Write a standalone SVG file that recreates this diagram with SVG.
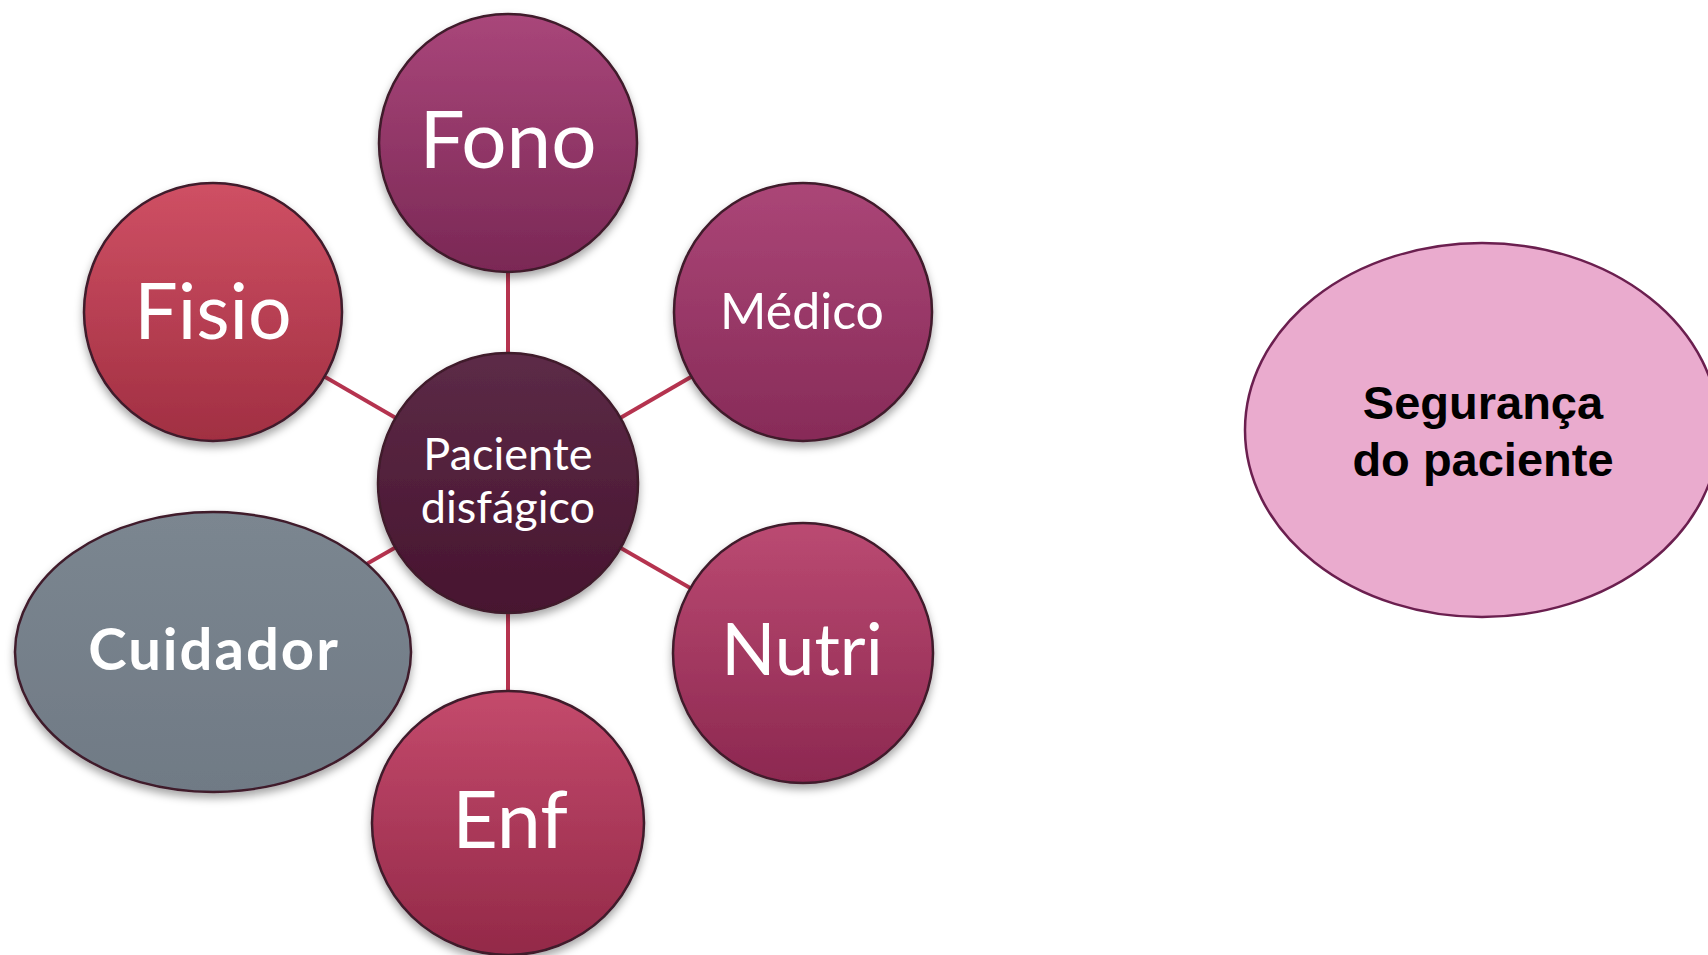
<svg xmlns="http://www.w3.org/2000/svg" width="1708" height="955" viewBox="0 0 1708 955">
<defs>
<filter id="sh" x="-20%" y="-20%" width="140%" height="140%">
<feDropShadow dx="0" dy="5" stdDeviation="4" flood-color="#000" flood-opacity="0.35"/>
</filter>
<linearGradient id="gFono" x1="0" y1="0" x2="0" y2="1"><stop offset="0" stop-color="#a9467a"/><stop offset="1" stop-color="#7a2855"/></linearGradient>
<linearGradient id="gFisio" x1="0" y1="0" x2="0" y2="1"><stop offset="0" stop-color="#cf5064"/><stop offset="1" stop-color="#a12f42"/></linearGradient>
<linearGradient id="gMed" x1="0" y1="0" x2="0" y2="1"><stop offset="0" stop-color="#ab4677"/><stop offset="1" stop-color="#872b58"/></linearGradient>
<linearGradient id="gPac" x1="0" y1="0" x2="0" y2="1"><stop offset="0" stop-color="#5c2b47"/><stop offset="1" stop-color="#47142f"/></linearGradient>
<linearGradient id="gNutri" x1="0" y1="0" x2="0" y2="1"><stop offset="0" stop-color="#bb4a72"/><stop offset="1" stop-color="#8c2850"/></linearGradient>
<linearGradient id="gEnf" x1="0" y1="0" x2="0" y2="1"><stop offset="0" stop-color="#c44a6c"/><stop offset="1" stop-color="#932948"/></linearGradient>
<linearGradient id="gCui" x1="0" y1="0" x2="0" y2="1"><stop offset="0" stop-color="#7b8690"/><stop offset="1" stop-color="#707a85"/></linearGradient>
</defs>
<style>
.node{stroke:#3f1a2c;stroke-width:2.5;filter:url(#sh)}
.lbl{font-family:Lato,"Open Sans","Liberation Sans",sans-serif;fill:#fff;text-anchor:middle}
.conn{stroke:#b5334f;stroke-width:4;fill:none}
</style>
<g id="connectors">
<line class="conn" x1="508" y1="483" x2="508" y2="143"/>
<line class="conn" x1="508" y1="483" x2="213" y2="312"/>
<line class="conn" x1="508" y1="483" x2="803" y2="312"/>
<line class="conn" x1="508" y1="483" x2="803" y2="653"/>
<line class="conn" x1="508" y1="483" x2="508" y2="823"/>
<line class="conn" x1="508" y1="483" x2="213" y2="652"/>
</g>
<g id="fono">
<circle class="node" cx="508" cy="143" r="129" fill="url(#gFono)"/>
<text class="lbl" x="508" y="168" font-size="80">Fono</text>
</g>
<g id="fisio">
<circle class="node" cx="213" cy="312" r="129" fill="url(#gFisio)"/>
<text class="lbl" x="213" y="339" font-size="77">Fisio</text>
</g>
<g id="medico">
<circle class="node" cx="803" cy="312" r="129" fill="url(#gMed)"/>
<text class="lbl" x="802" y="329" font-size="50">Médico</text>
</g>
<g id="nutri">
<circle class="node" cx="803" cy="653" r="130" fill="url(#gNutri)"/>
<text class="lbl" x="802" y="675" font-size="71">Nutri</text>
</g>
<g id="enf">
<ellipse class="node" cx="508" cy="823" rx="136" ry="132" fill="url(#gEnf)"/>
<text class="lbl" x="510" y="848" font-size="79">Enf</text>
</g>
<g id="cuidador">
<ellipse class="node" cx="213" cy="652" rx="198" ry="140" fill="url(#gCui)" stroke="#3a3f45"/>
<text class="lbl" x="214" y="670" font-size="58" font-weight="bold" letter-spacing="2">Cuidador</text>
</g>
<g id="paciente">
<circle class="node" cx="508" cy="483" r="130" fill="url(#gPac)"/>
<text class="lbl" x="508" y="470" font-size="45">Paciente</text>
<text class="lbl" x="508" y="523" font-size="45">disfágico</text>
</g>
<g id="seguranca">
<ellipse cx="1482" cy="430" rx="237" ry="187" fill="#eaabce" stroke="#6b1f4f" stroke-width="2.5"/>
<text x="1483" y="419" font-family="'Liberation Sans',Arial,sans-serif" font-size="47" font-weight="bold" text-anchor="middle" fill="#000">Segurança</text>
<text x="1483" y="476" font-family="'Liberation Sans',Arial,sans-serif" font-size="47" font-weight="bold" text-anchor="middle" fill="#000">do paciente</text>
</g>
</svg>
